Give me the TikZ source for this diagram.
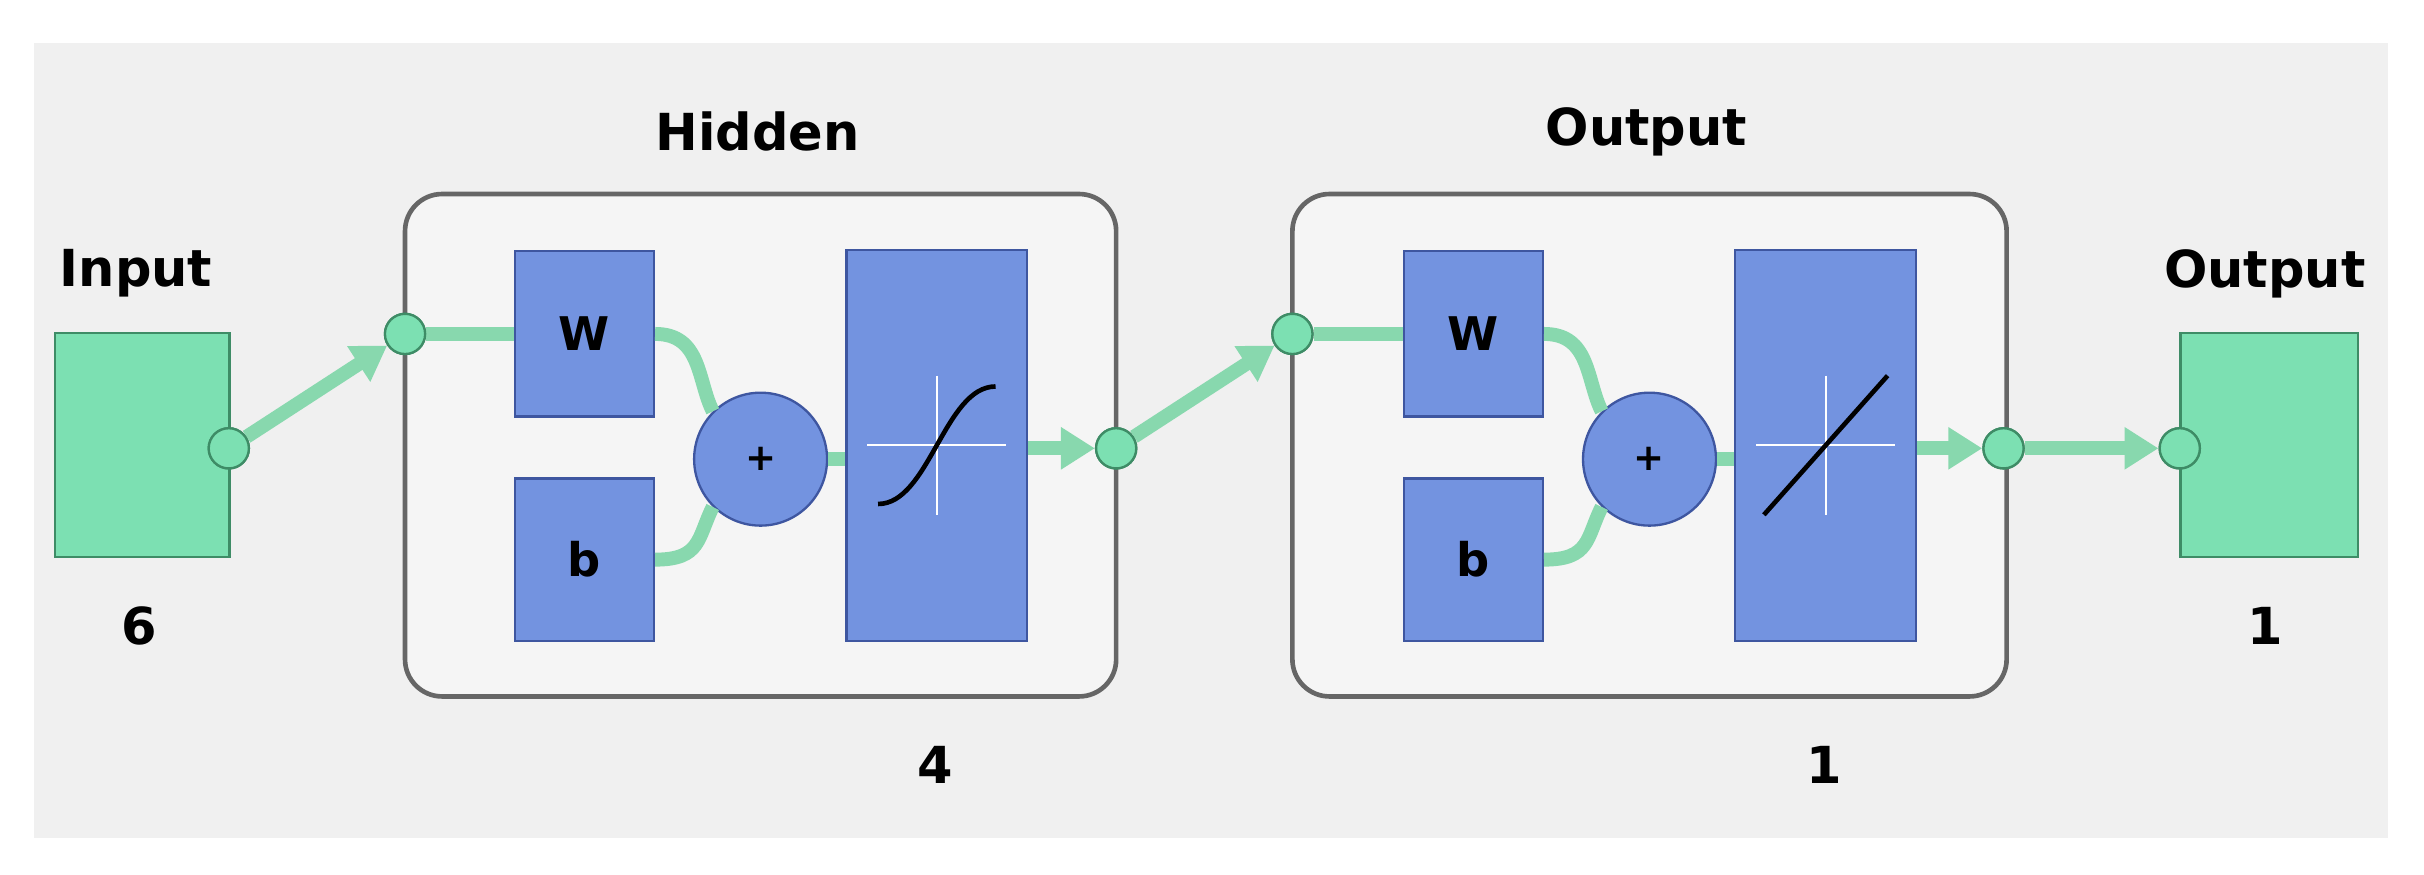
\documentclass[tikz,border=0pt]{standalone}
\usepackage{fontspec}
\setmainfont{DejaVu Sans}
\usetikzlibrary{arrows.meta,calc}
\definecolor{gbox}{HTML}{7CE0B2}
\definecolor{gline}{HTML}{88D8AE}
\definecolor{gdark}{HTML}{3E8C66}
\definecolor{bbox}{HTML}{7393E0}
\definecolor{bdark}{HTML}{3E56A0}
\definecolor{bg}{HTML}{F0F0F0}
\begin{document}
\begin{tikzpicture}[x=1pt,y=-1pt,
  lbl/.style={font=\fontsize{33}{40}\selectfont\bfseries,inner sep=0pt},
  gsq/.style={draw=gdark,line width=1.5pt,fill=gbox},
  bsq/.style={draw=bdark,line width=1.5pt,fill=bbox},
  layer/.style={draw=gray!80!black,line width=3pt,fill=white!96!black,rounded corners=24pt},
  dot/.style={circle,draw=gdark,line width=1.5pt,fill=gbox,minimum size=26pt,inner sep=0pt},
  sumc/.style={circle,draw=bdark,line width=1.5pt,fill=bbox,minimum size=86pt,inner sep=0pt,font=\fontsize{24}{28}\selectfont\bfseries},
  wire/.style={draw=gline,line width=9pt},
  arr/.style={wire,-{Triangle[length=22pt,width=26pt,fill=gline]}},
  tf/.style={bsq,minimum width=117pt,minimum height=253pt,inner sep=0pt}
]
\useasboundingbox (0,0) rectangle (1568,566);
\fill[white] (0,0) rectangle (1568,566);
\fill[bg] (22,28) rectangle (1545,542);
% input
\node[lbl] (lin) at (88,177) {Input};
\node[gsq,minimum width=113pt,minimum height=145pt,inner sep=0pt] (inbox) at (92,288) {};
\node[lbl] (six) at (90,405) {6};
% hidden layer
\node[layer,minimum width=460pt,minimum height=325pt] (hid) at (492,288) {};
\node[lbl] (lhid) at (490,85) {Hidden};
\node[lbl] (four) at (605,495) {4};
\node[bsq,minimum width=90pt,minimum height=107pt,font=\fontsize{30}{34}\selectfont\bfseries] (w1) at (378,216) {W};
\node[bsq,minimum width=90pt,minimum height=105pt,font=\fontsize{30}{34}\selectfont\bfseries] (b1) at (378,362) {b};
\node[sumc] (s1) at (492,297) {+};
\node[tf] (t1) at (606,288) {};
% output layer
\node[layer,minimum width=462pt,minimum height=325pt] (outl) at (1067,288) {};
\node[lbl] (lout) at (1065,85) {Output};
\node[lbl] (one1) at (1180,495) {1};
\node[bsq,minimum width=90pt,minimum height=107pt,font=\fontsize{30}{34}\selectfont\bfseries] (w2) at (953,216) {W};
\node[bsq,minimum width=90pt,minimum height=105pt,font=\fontsize{30}{34}\selectfont\bfseries] (b2) at (953,362) {b};
\node[sumc] (s2) at (1067,297) {+};
\node[tf] (t2) at (1181,288) {};
% output
\node[lbl] (lo) at (1465,177) {Output};
\node[gsq,minimum width=115pt,minimum height=145pt,inner sep=0pt] (obox) at (1468,288) {};
\node[lbl] (one2) at (1465,405) {1};
% dots
\node[dot] (d0) at (148,290) {};
\node[dot] (d1) at (262,216) {};
\node[dot] (d2) at (722,290) {};
\node[dot] (d3) at (836,216) {};
\node[dot] (d4) at (1296,290) {};
\node[dot] (d5) at (1410,290) {};
% transfer drawings
\foreach \t in {t1,t2}{
  \draw[white,line width=1pt] ($(\t.center)+(-45,0)$) -- ++(90,0);
  \draw[white,line width=1pt] ($(\t.center)+(0,-45)$) -- ++(0,90);
}
\draw[black,line width=3pt] ($(t1.center)+(-38,38)$) .. controls ($(t1.center)+(-5,38)$) and ($(t1.center)+(5,-38)$) .. ($(t1.center)+(38,-38)$);
\draw[black,line width=3pt] ($(t2.center)+(-40,45)$) -- ($(t2.center)+(40,-45)$);
% wires
\draw[arr] (d0) -- (d1);
\draw[wire] (d1) -- (w1.west|-d1);
\draw[wire] (w1.east) .. controls +(30,0) and +(-10,-20) .. (s1.north west);
\draw[wire] (b1.east) .. controls +(30,0) and +(-10,20) .. (s1.south west);
\draw[wire] (s1.east) -- (t1.west|-s1);
\draw[arr] (t1.east|-d2) -- (d2);
\draw[arr] (d2) -- (d3);
\draw[wire] (d3) -- (w2.west|-d3);
\draw[wire] (w2.east) .. controls +(30,0) and +(-10,-20) .. (s2.north west);
\draw[wire] (b2.east) .. controls +(30,0) and +(-10,20) .. (s2.south west);
\draw[wire] (s2.east) -- (t2.west|-s2);
\draw[arr] (t2.east|-d4) -- (d4);
\draw[arr] (d4) -- (d5);
\foreach \d in {d0,d1,d2,d3,d4,d5}{\node[dot] at (\d) {};}
\end{tikzpicture}
\end{document}
